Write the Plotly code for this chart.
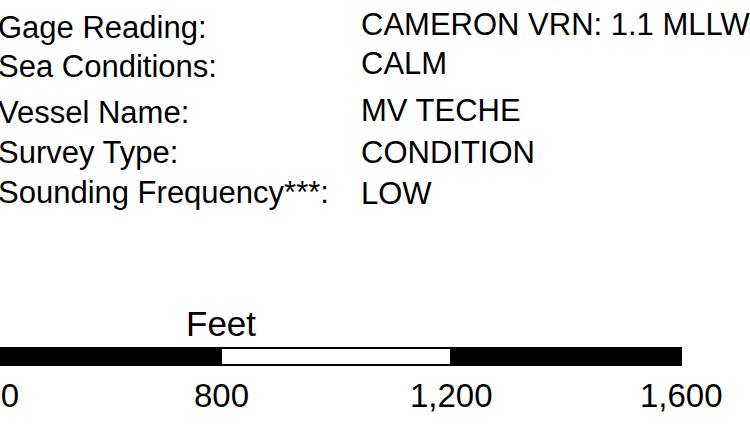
import plotly.graph_objects as go

# ---- data ----
field_labels = ["Gage Reading:", "Sea Conditions:", "Vessel Name:", "Survey Type:", "Sounding Frequency***:"]
field_values = ["CAMERON VRN: 1.1 MLLW", "CALM", "MV TECHE", "CONDITION", "LOW"]
scale_starts = [0, 800, 1200]
scale_ends = [800, 1200, 1600]
scale_colors = ["#000000", "#ffffff", "#000000"]
tick_values = [400, 800, 1200, 1600]
tick_labels = ["400", "800", "1,200", "1,600"]
scale_unit = "Feet"

FONT = "Arial, Liberation Sans, sans-serif"
W, H = 750, 426

# layout geometry (pixels)
left_x = -4
right_x = 359
left_rows = [27, 66, 112, 152, 192]
right_rows = [24, 63, 110, 152, 193]
bar_y = 356.5
bar_h = 17
tick_y = 395
unit_y = 323

fig = go.Figure()

fig.add_trace(go.Bar(
    orientation="h",
    y=[bar_y] * len(scale_starts),
    base=scale_starts,
    x=[e - s for s, e in zip(scale_starts, scale_ends)],
    width=bar_h,
    marker=dict(color=scale_colors, line=dict(color="#000000", width=2)),
    showlegend=False,
    hoverinfo="skip",
))

annotations = []
# tick labels: anchored on an in-range point, text placed at the tick value (tail)
for v, t in zip(tick_values, tick_labels):
    annotations.append(dict(
        text=t, xref="x", yref="y", x=scale_ends[-1], y=tick_y,
        axref="x", ayref="y", ax=v, ay=tick_y,
        showarrow=True, arrowcolor="rgba(0,0,0,0)", arrowwidth=0.1,
        xanchor="center", yanchor="middle",
        font=dict(family=FONT, size=33, color="#000000"),
    ))
# unit label centred over the whole scale bar
annotations.append(dict(
    text=scale_unit, xref="x", yref="y",
    x=(scale_starts[0] + scale_ends[-1]) / 2, y=unit_y,
    showarrow=False, xanchor="center", yanchor="middle",
    font=dict(family=FONT, size=35, color="#000000"),
))
for lab, yy in zip(field_labels, left_rows):
    annotations.append(dict(
        text=lab, xref="paper", yref="y", x=left_x / W, y=yy,
        xanchor="left", yanchor="middle", showarrow=False,
        font=dict(family=FONT, size=31, color="#000000"),
    ))
for val, yy in zip(field_values, right_rows):
    annotations.append(dict(
        text=val, xref="paper", yref="y", x=right_x / W, y=yy,
        xanchor="left", yanchor="middle", showarrow=False,
        font=dict(family=FONT, size=31, color="#000000"),
    ))

# x scale: 800 ft at px 221, 1600 ft at px 681
px_per_ft = (681 - 221) / 800.0
x0 = 800 - 221 / px_per_ft
x1 = 800 + (W - 221) / px_per_ft

fig.update_layout(
    width=W, height=H,
    margin=dict(l=0, r=0, t=0, b=0),
    paper_bgcolor="#ffffff", plot_bgcolor="#ffffff",
    xaxis=dict(range=[x0, x1], visible=False, fixedrange=True),
    yaxis=dict(range=[H, 0], visible=False, fixedrange=True),
    annotations=annotations,
    bargap=0,
)

fig.write_html("out.html", config={"displayModeBar": False},
               post_script="document.body.style.margin='0px';")
